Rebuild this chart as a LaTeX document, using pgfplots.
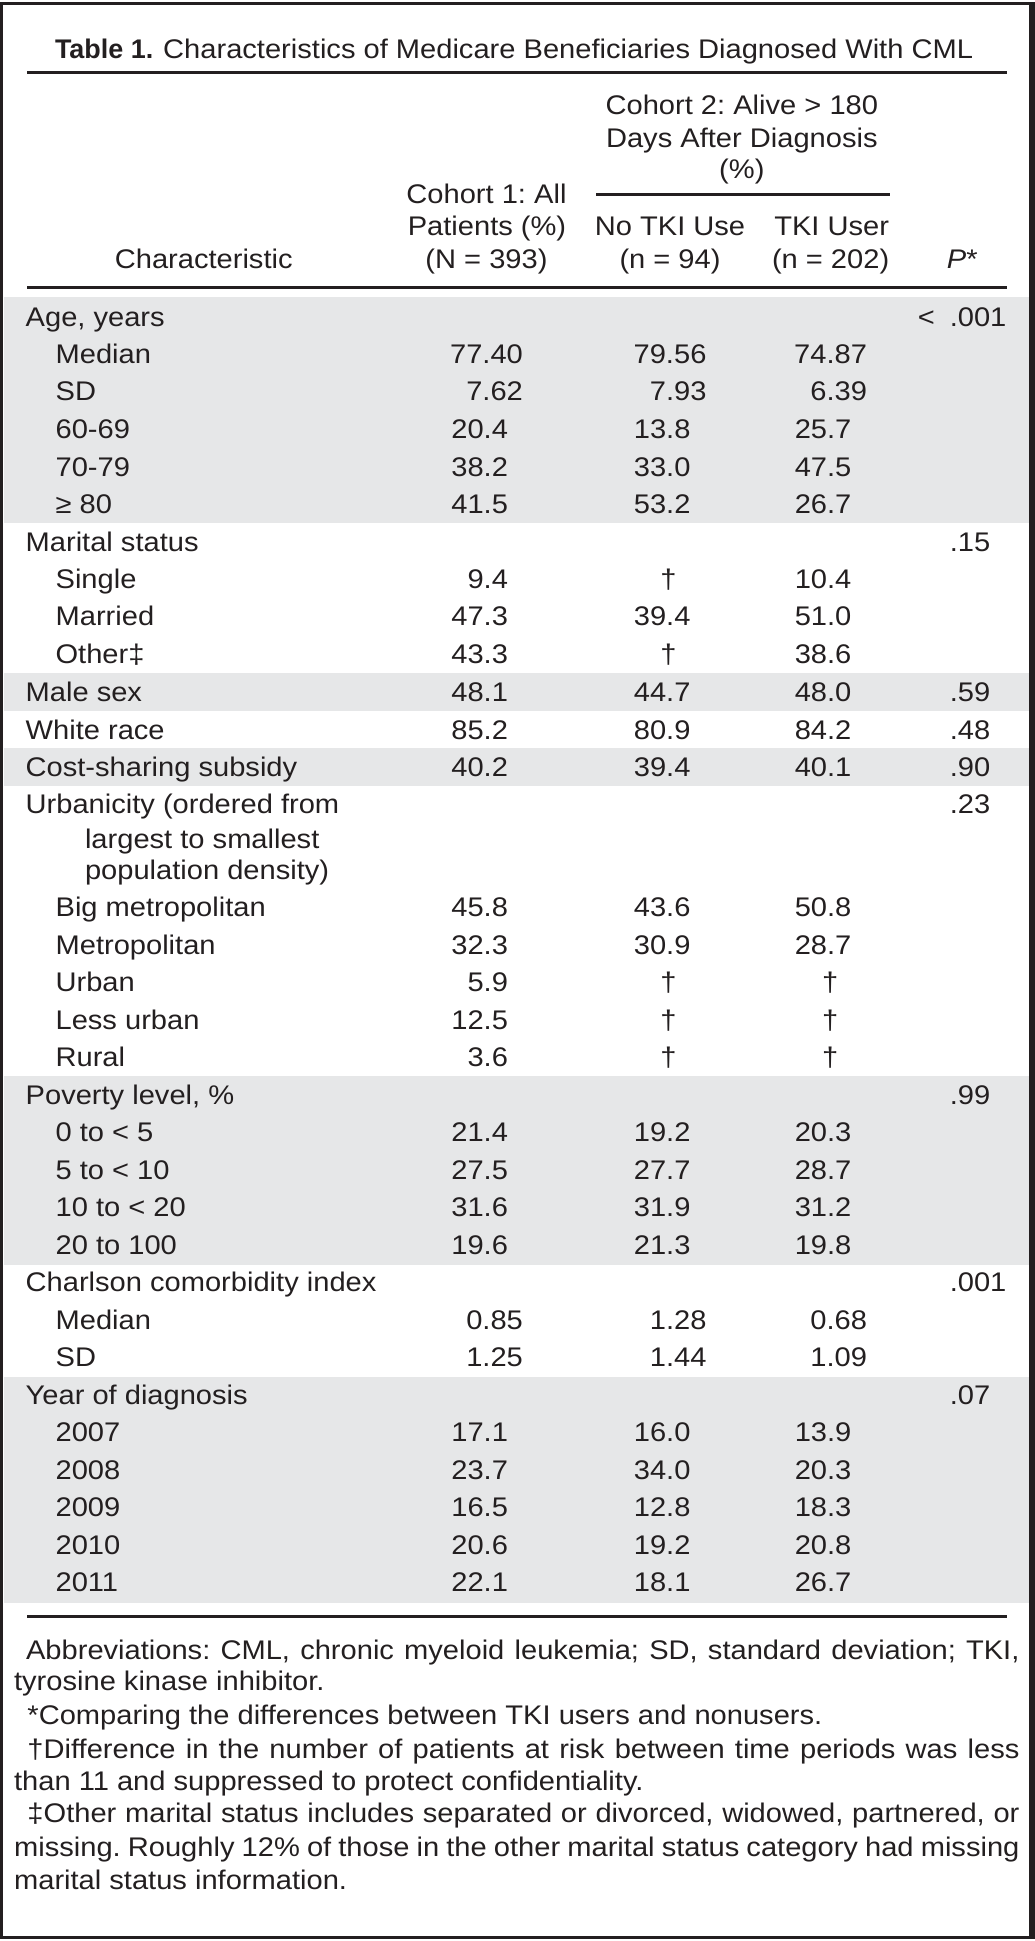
\documentclass[border=0pt]{standalone}
\usepackage{pgfplots}
\pgfplotsset{compat=1.18}
\usepackage{pgfplotstable}
\usepackage{fontspec}
\setmainfont{Liberation Sans}[FakeStretch=1.08]
\newfontfamily\plainf{Liberation Sans}
\definecolor{tblgray}{RGB}{230,231,232}
\definecolor{txtcol}{RGB}{35,31,32}
\newcommand\fs{\fontsize{13.5pt}{16.25pt}\selectfont\frenchspacing}

\pgfplotstableread[col sep=semicolon,row sep=\\]{
y;x;t\\
324.5;25;Age, years\\
361.7;55;Median\\
399.5;55;SD\\
437.5;55;60-69\\
475;55;70-79\\
512.7;55;≥ 80\\
550;25;Marital status\\
587.7;55;Single\\
625;55;Married\\
663;55;Other‡\\
701;25;Male sex\\
738.5;25;White race\\
776;25;Cost-sharing subsidy\\
813.3;25;Urbanicity (ordered from\\
847.7;84.5;largest to smallest\\
879.5;84.5;population density)\\
916.7;55;Big metropolitan\\
954.3;55;Metropolitan\\
992;55;Urban\\
1029.5;55;Less urban\\
1067.1;55;Rural\\
1104.7;25;Poverty level, \%\\
1142.3;55;0 to < 5\\
1180;55;5 to < 10\\
1217.5;55;10 to < 20\\
1255.1;55;20 to 100\\
1292.7;25;Charlson comorbidity index\\
1330.3;55;Median\\
1368;55;SD\\
1405.5;25;Year of diagnosis\\
1443.1;55;2007\\
1480.7;55;2008\\
1518.3;55;2009\\
1556;55;2010\\
1593.5;55;2011\\
}\labs

\pgfplotstableread[col sep=semicolon,row sep=\\]{
y;x;t\\
361.7;523.5;77.40\\
399.5;523.5;7.62\\
437.5;508.5;20.4\\
475;508.5;38.2\\
512.7;508.5;41.5\\
587.7;508.5;9.4\\
625;508.5;47.3\\
663;508.5;43.3\\
701;508.5;48.1\\
738.5;508.5;85.2\\
776;508.5;40.2\\
916.7;508.5;45.8\\
954.3;508.5;32.3\\
992;508.5;5.9\\
1029.5;508.5;12.5\\
1067.1;508.5;3.6\\
1142.3;508.5;21.4\\
1180;508.5;27.5\\
1217.5;508.5;31.6\\
1255.1;508.5;19.6\\
1330.3;523.5;0.85\\
1368;523.5;1.25\\
1443.1;508.5;17.1\\
1480.7;508.5;23.7\\
1518.3;508.5;16.5\\
1556;508.5;20.6\\
1593.5;508.5;22.1\\
}\cohorta

\pgfplotstableread[col sep=semicolon,row sep=\\]{
y;x;t\\
361.7;707.5;79.56\\
399.5;707.5;7.93\\
437.5;691.5;13.8\\
475;691.5;33.0\\
512.7;691.5;53.2\\
587.7;677.6;†\\
625;691.5;39.4\\
663;677.6;†\\
701;691.5;44.7\\
738.5;691.5;80.9\\
776;691.5;39.4\\
916.7;691.5;43.6\\
954.3;691.5;30.9\\
992;677.6;†\\
1029.5;677.6;†\\
1067.1;677.6;†\\
1142.3;691.5;19.2\\
1180;691.5;27.7\\
1217.5;691.5;31.9\\
1255.1;691.5;21.3\\
1330.3;707.5;1.28\\
1368;707.5;1.44\\
1443.1;691.5;16.0\\
1480.7;691.5;34.0\\
1518.3;691.5;12.8\\
1556;691.5;19.2\\
1593.5;691.5;18.1\\
}\notki

\pgfplotstableread[col sep=semicolon,row sep=\\]{
y;x;t\\
361.7;868.5;74.87\\
399.5;868.5;6.39\\
437.5;852.8;25.7\\
475;852.8;47.5\\
512.7;852.8;26.7\\
587.7;852.8;10.4\\
625;852.8;51.0\\
663;852.8;38.6\\
701;852.8;48.0\\
738.5;852.8;84.2\\
776;852.8;40.1\\
916.7;852.8;50.8\\
954.3;852.8;28.7\\
992;839.6;†\\
1029.5;839.6;†\\
1067.1;839.6;†\\
1142.3;852.8;20.3\\
1180;852.8;28.7\\
1217.5;852.8;31.2\\
1255.1;852.8;19.8\\
1330.3;868.5;0.68\\
1368;868.5;1.09\\
1443.1;852.8;13.9\\
1480.7;852.8;20.3\\
1518.3;852.8;18.3\\
1556;852.8;20.8\\
1593.5;852.8;26.7\\
}\tki

\pgfplotstableread[col sep=semicolon,row sep=\\]{
y;x;t\\
324.5;919.5;<\\
324.5;951.5;.001\\
550;951.5;.15\\
701;951.5;.59\\
738.5;951.5;.48\\
776;951.5;.90\\
813.3;951.5;.23\\
1104.7;951.5;.99\\
1292.7;951.5;.001\\
1405.5;951.5;.07\\
}\pvals

\pgfplotsset{
  txt/.style={only marks, mark=none, point meta=explicit symbolic, nodes near coords,
    every node near coord/.append style={anchor=#1, inner sep=0pt, outer sep=0pt, font=\fs, text=txtcol}},
  band/.style={fill=tblgray, draw=none, forget plot},
  rule/.style={draw=txtcol, line width=#1, forget plot},
}

\begin{document}
\frenchspacing
\begin{tikzpicture}
\begin{axis}[x=0.5pt, y=0.5pt, xmin=0, xmax=1036, ymin=0, ymax=1941,
  y dir=reverse, hide axis, clip=false]
% shaded bands
\addplot[band] coordinates {(3,295) (1033,295) (1033,522) (3,522)} -- cycle;
\addplot[band] coordinates {(3,672) (1033,672) (1033,710.3) (3,710.3)} -- cycle;
\addplot[band] coordinates {(3,747.7) (1033,747.7) (1033,785.3) (3,785.3)} -- cycle;
\addplot[band] coordinates {(3,1076.7) (1033,1076.7) (1033,1265.3) (3,1265.3)} -- cycle;
\addplot[band] coordinates {(3,1377.7) (1033,1377.7) (1033,1604.5) (3,1604.5)} -- cycle;
% frame
\addplot[rule=1.5pt] coordinates {(0.75,0.75) (1035.25,0.75) (1035.25,1940.25) (0.75,1940.25)} -- cycle;
\addplot[rule=2.5pt] coordinates {(1033.5,0) (1033.5,1941)};
% rules
\addplot[rule=1.65pt] coordinates {(26.4,70) (1009,70)};
\addplot[rule=1.4pt] coordinates {(597,192.5) (892,192.5)};
\addplot[rule=1.5pt] coordinates {(26.4,285.3) (1009,285.3)};
\addplot[rule=1.5pt] coordinates {(26.4,1618.3) (1009,1618.3)};
% body
\addplot[txt=base west] table[x=x, y=y, meta=t] {\labs};
\addplot[txt=base east] table[x=x, y=y, meta=t] {\cohorta};
\addplot[txt=base east] table[x=x, y=y, meta=t] {\notki};
\addplot[txt=base east] table[x=x, y=y, meta=t] {\tki};
\addplot[txt=base west] table[x=x, y=y, meta=t] {\pvals};
% title
\node[anchor=base west, inner sep=0pt, font=\fs\plainf\bfseries, text=txtcol] at (axis cs:54,56) {Table 1.};
\node[anchor=base west, inner sep=0pt, font=\fs, text=txtcol] at (axis cs:162.5,56) {Characteristics of Medicare Beneficiaries Diagnosed With CML};
% header
\begin{scope}[every node/.style={anchor=base, inner sep=0pt, font=\fs, text=txtcol}]
\node at (axis cs:743,112.7) {Cohort 2: Alive > 180};
\node at (axis cs:743,145) {Days After Diagnosis};
\node at (axis cs:743,176) {(\%)};
\node at (axis cs:487,201.3) {Cohort 1: All};
\node at (axis cs:487.5,234) {Patients (\%)};
\node at (axis cs:487,266.7) {(N = 393)};
\node at (axis cs:671,234) {No TKI Use};
\node at (axis cs:671,266.7) {(n = 94)};
\node at (axis cs:833,234) {TKI User};
\node at (axis cs:832,266.7) {(n = 202)};
\node at (axis cs:203.5,266.7) {Characteristic};
\node at (axis cs:964,266.7) {\textit{P}*};
\end{scope}
% footnotes
\begin{scope}[every node/.style={anchor=base west, inner sep=0pt, font=\fs, text=txtcol}]
\node at (axis cs:25,1661) {\makebox[498pt][s]{Abbreviations: CML, chronic myeloid leukemia; SD, standard deviation; TKI,}};
\node at (axis cs:13,1692.7) {tyrosine kinase inhibitor.};
\node at (axis cs:26.4,1726) {*Comparing the differences between TKI users and nonusers.};
\node at (axis cs:26.4,1760.7) {\makebox[497.3pt][s]{†Difference in the number of patients at risk between time periods was less}};
\node at (axis cs:13,1792.7) {than 11 and suppressed to protect confidentiality.};
\node at (axis cs:26.4,1825) {\makebox[497.3pt][s]{‡Other marital status includes separated or divorced, widowed, partnered, or}};
\node at (axis cs:13,1858.3) {\makebox[504pt][s]{missing. Roughly 12\% of those in the other marital status category had missing}};
\node at (axis cs:13,1891.7) {marital status information.};
\end{scope}
\end{axis}
\end{tikzpicture}
\end{document}
